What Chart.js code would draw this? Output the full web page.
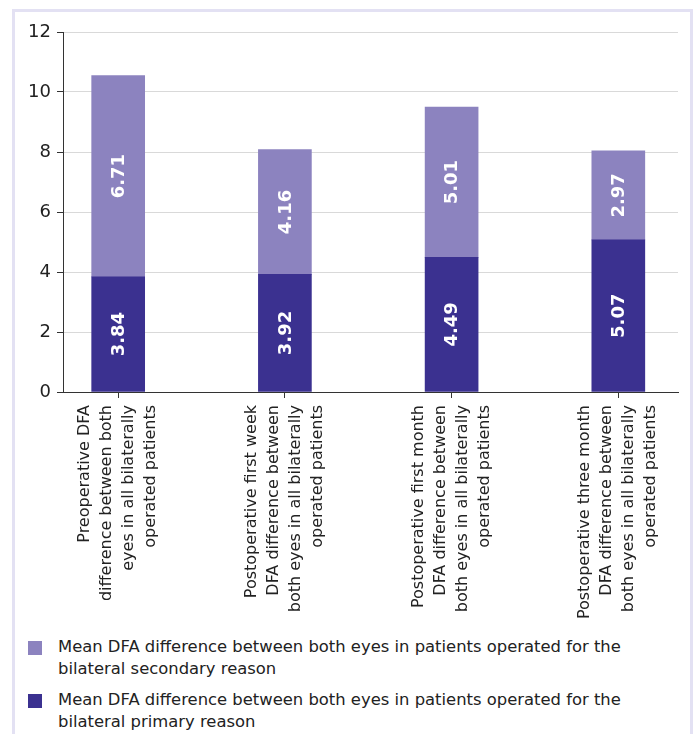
<!DOCTYPE html>
<html>
<head>
<meta charset="utf-8">
<script src="https://cdn.jsdelivr.net/npm/chart.js@4.4.0/dist/chart.umd.min.js"></script>
<style>
    body { margin: 0; background: #fff; }
    .quadro { position: absolute; left: 12px; top: 9px; width: 675px; height: 740px; border: 3px solid #e3e1f3; }
    #grafico { position: absolute; left: 0; top: 0; }
    .legenda { position: absolute; left: 28px; top: 636px;
               font-family: "DejaVu Sans", sans-serif;
               font-size: 16.4px; line-height: 22px; color: #222; }
    .item { display: flex; align-items: flex-start; margin-bottom: 9px; }
    .cor { width: 14px; height: 14px; margin-top: 5px; margin-right: 16px; flex: none; }
    .texto { width: 600px; }
</style>
</head>
<body>
<div class="quadro"></div>
<canvas id="grafico" width="693" height="620"></canvas>
<div class="legenda" id="legenda"></div>

<script>
// rótulos das categorias (uma linha por elemento)
var categorias = [
    ["Preoperative DFA", "difference between both", "eyes in all bilaterally", "operated patients"],
    ["Postoperative first week", "DFA difference between", "both eyes in all bilaterally", "operated patients"],
    ["Postoperative first month", "DFA difference between", "both eyes in all bilaterally", "operated patients"],
    ["Postoperative three month", "DFA difference between", "both eyes in all bilaterally", "operated patients"]
];
var primario = [3.84, 3.92, 4.49, 5.07];
var secundario = [6.71, 4.16, 5.01, 2.97];
var ticksY = [0, 2, 4, 6, 8, 10, 12];
var nomeSecundario = "Mean DFA difference between both eyes in patients operated for the bilateral secondary reason";
var nomePrimario = "Mean DFA difference between both eyes in patients operated for the bilateral primary reason";

var corClara = "#8c83bf";
var corEscura = "#3b3190";

Chart.defaults.font.family = "DejaVu Sans";

function pontos(valores) {
    return valores.map(function(v, i) { return { x: i, y: v }; });
}

// valores dentro das barras
var valoresPlugin = {
    id: 'valores',
    afterDatasetsDraw: function(chart) {
        var ctx = chart.ctx;
        ctx.save();
        ctx.fillStyle = '#fff';
        ctx.font = 'bold 18px "DejaVu Sans"';
        ctx.textAlign = 'center';
        ctx.textBaseline = 'middle';
        chart.data.datasets.forEach(function(ds, d) {
            chart.getDatasetMeta(d).data.forEach(function(bar, i) {
                var y = (bar.y + bar.base) / 2;
                ctx.save();
                ctx.translate(bar.x, y);
                ctx.rotate(-Math.PI / 2);
                ctx.fillText(ds.data[i].y.toFixed(2), 0, 1);
                ctx.restore();
            });
        });
        ctx.restore();
    }
};

// rótulos do eixo x, girados e centrados no tick
var rotulosPlugin = {
    id: 'rotulos',
    afterDraw: function(chart) {
        var ctx = chart.ctx;
        var escala = chart.scales.x;
        var topo = chart.chartArea.bottom + 13;
        ctx.save();
        ctx.fillStyle = '#222';
        ctx.font = '16px "DejaVu Sans"';
        ctx.textAlign = 'right';
        ctx.textBaseline = 'middle';
        categorias.forEach(function(linhas, i) {
            var x = escala.getPixelForValue(i);
            ctx.save();
            ctx.translate(x, topo);
            ctx.rotate(-Math.PI / 2);
            linhas.forEach(function(t, k) {
                ctx.fillText(t, 0, (k - (linhas.length - 1) / 2) * 22);
            });
            ctx.restore();
        });
        ctx.restore();
    }
};

var ctx = document.getElementById('grafico').getContext('2d');
window.grafico = new Chart(ctx, {
    type: 'bar',
    data: {
        datasets: [{
            label: nomePrimario,
            data: pontos(primario),
            backgroundColor: corEscura,
            barThickness: 53
        }, {
            label: nomeSecundario,
            data: pontos(secundario),
            backgroundColor: corClara,
            barThickness: 53
        }]
    },
    options: {
        responsive: false,
        animation: false,
        layout: { padding: { left: 13, top: 32, right: 15, bottom: 0 } },
        plugins: { legend: { display: false }, tooltip: { enabled: false } },
        scales: {
            x: {
                type: 'linear',
                stacked: true,
                offset: false,
                min: -0.331,
                max: 3.358,
                afterFit: function(s) { s.height = 228; },
                ticks: { display: false, stepSize: 1, includeBounds: false },
                grid: { offset: false, drawOnChartArea: false, drawTicks: true, tickLength: 6, tickColor: '#333' },
                border: { color: '#333', width: 1 }
            },
            y: {
                stacked: true,
                min: 0,
                max: 12,
                afterFit: function(s) { s.width = 50; },
                afterBuildTicks: function(s) { s.ticks = ticksY.map(function(v) { return { value: v }; }); },
                ticks: { color: '#222', font: { size: 18 }, padding: 6 },
                grid: { color: '#d9d9d9', tickLength: 6, tickColor: '#333' },
                border: { color: '#333', width: 1 }
            }
        }
    },
    plugins: [valoresPlugin, rotulosPlugin]
});

// legenda em HTML (secundário em cima, primário embaixo)
var legenda = document.getElementById('legenda');
[[corClara, nomeSecundario], [corEscura, nomePrimario]].forEach(function(par) {
    var item = document.createElement('div');
    item.className = 'item';
    item.innerHTML = '<span class="cor" style="background:' + par[0] + '"></span><span class="texto">' + par[1] + '</span>';
    legenda.appendChild(item);
});
</script>
</body>
</html>
